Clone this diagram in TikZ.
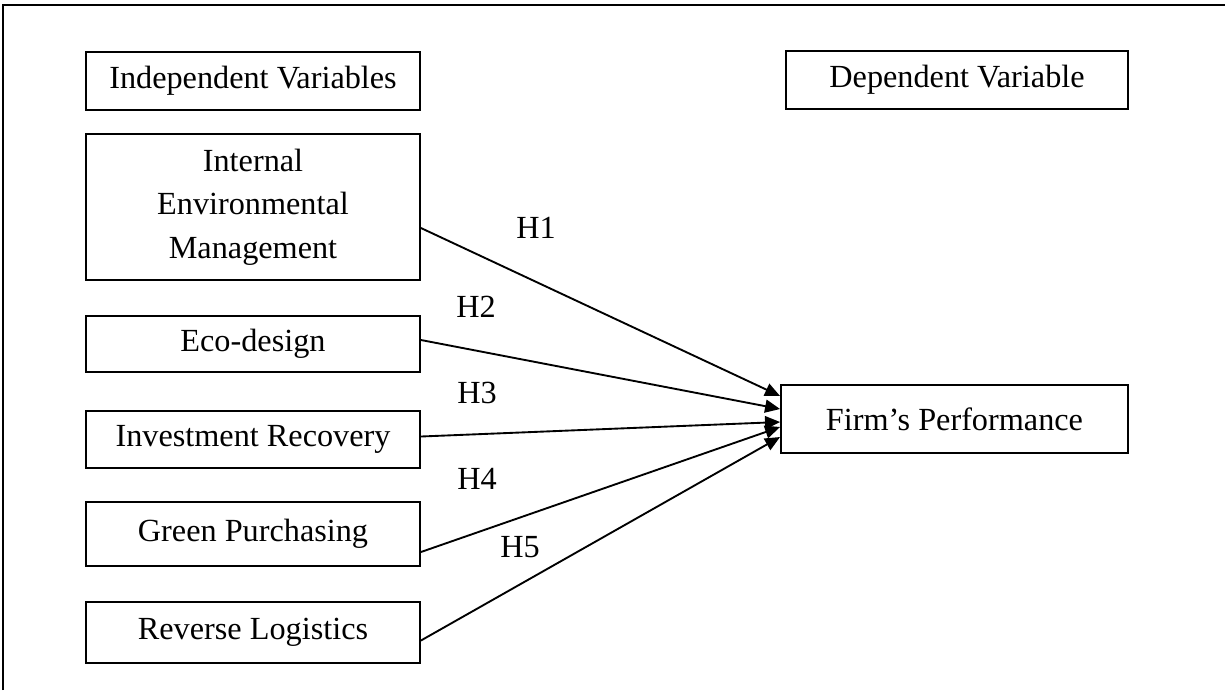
\documentclass[tikz,border=0pt]{standalone}
\usepackage{fontspec}
\setmainfont{Liberation Serif}
\usepackage{tikz}
\usetikzlibrary{positioning, arrows.meta, calc}

\begin{document}
\begin{tikzpicture}[
  x=0.4pt, y=-0.4pt,
  every node/.style={font=\fontsize{12.9}{17.4}\selectfont},
  varbox/.style={
    draw, line width=0.75pt, fill=white,
    minimum width=133.6pt, align=center, inner sep=0pt
  },
  frame/.style={line width=0.75pt},
  arrow/.style={-{Triangle[length=6pt,width=5.2pt]}, line width=0.75pt},
  hlabel/.style={inner sep=0pt},
]
\useasboundingbox (0,0) rectangle (1225,694);

% Outer frame (top and left only)
\draw[frame] (3,690) -- (3,5) -- (1225,5);

% Headings
\node[varbox, minimum height=23.2pt] (indep) at (253,81) {Independent Variables};
\node[varbox, minimum height=23.2pt, minimum width=136.8pt] (dep) at (957,80) {Dependent Variable};

% Independent variables
\node[varbox, minimum height=58.4pt, below=8.85pt of indep] (iem) {Internal\\Environmental\\Management};
\node[varbox, minimum height=22.4pt, below=13.65pt of iem] (eco) {Eco-design};
\node[varbox, minimum height=22.8pt, below=14.85pt of eco] (inv) {Investment Recovery};
\node[varbox, minimum height=25.6pt, below=12.85pt of inv] (green) {Green Purchasing};
\node[varbox, minimum height=24.4pt, below=13.65pt of green] (rev) {Reverse Logistics};

% Dependent variable
\node[varbox, minimum height=27.2pt, minimum width=138.8pt] (firm) at (954.5,419) {Firm’s Performance};

% Arrows
\draw[arrow] ($(iem.east)+(0,21)$) -- ($(firm.west)+(0,-23)$);
\draw[arrow] ($(eco.east)+(0,-4)$) -- ($(firm.west)+(0,-10)$);
\draw[arrow] ($(inv.east)+(0,-3)$) -- ($(firm.west)+(0,3)$);
\draw[arrow] ($(green.east)+(0,18)$) -- ($(firm.west)+(0,8)$);
\draw[arrow] ($(rev.east)+(0,8)$) -- ($(firm.west)+(0,18)$);

% Hypothesis labels
\node[hlabel] (h1) at (536,228) {H1};
\node[hlabel] (h2) at (476,307) {H2};
\node[hlabel] (h3) at (477,393) {H3};
\node[hlabel] (h4) at (477,479) {H4};
\node[hlabel] (h5) at (520,547) {H5};

\end{tikzpicture}
\end{document}
